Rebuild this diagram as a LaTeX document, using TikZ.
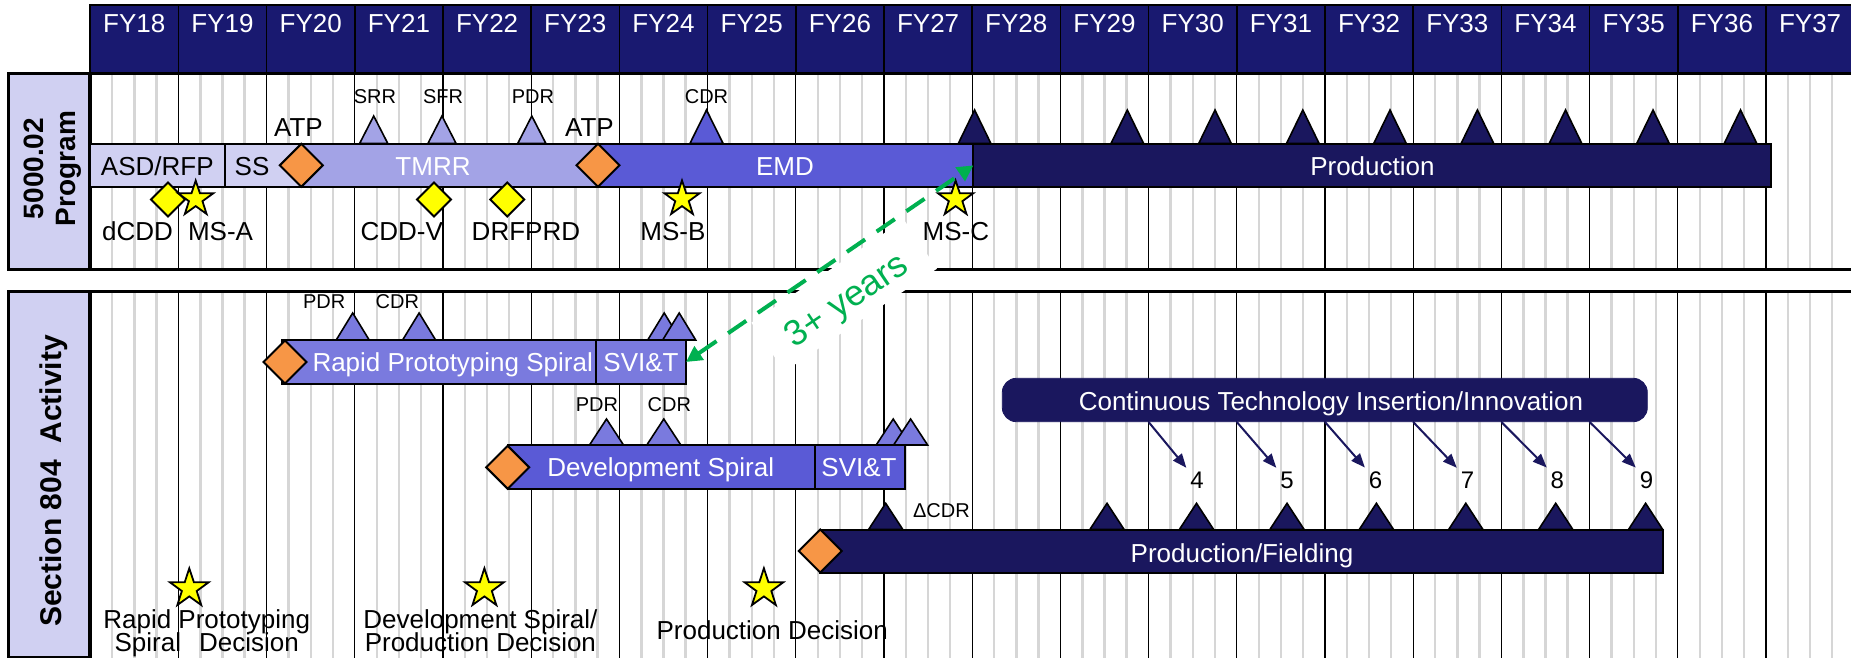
\documentclass[tikz,border=0pt]{standalone}
\usepackage{fontspec}
\setmainfont{Liberation Sans}
\usetikzlibrary{shapes.geometric,arrows.meta,fit}

\definecolor{hdrnavy}{RGB}{25,25,112}
\definecolor{prodnavy}{RGB}{26,23,94}
\definecolor{lav}{RGB}{208,208,242}
\definecolor{tmrrblue}{RGB}{163,163,230}
\definecolor{emdblue}{RGB}{90,90,214}
\definecolor{spiralblue}{RGB}{122,122,222}
\definecolor{gateorange}{RGB}{247,150,70}
\definecolor{msyellow}{RGB}{255,255,0}
\definecolor{spangreen}{RGB}{0,176,80}
\definecolor{quartergray}{RGB}{214,214,214}

% milestone triangle: fill, apex x, apex y, base y, half base width
\newcommand\msTri[5]{%
  \filldraw[mstri,fill=#1] (#2,#3) -- (#2+#5,#4) -- (#2-#5,#4) -- cycle;}
% two-line captions with a baseline distance below the font size
\newcommand\tightlines{\fontsize{13}{11.3}\selectfont\lineskiplimit=-20pt\relax}

\begin{document}
\begin{tikzpicture}[x=0.5pt,y=-0.5pt,
  every node/.style={inner sep=0pt,outer sep=0pt},
  hdrcell/.style={draw=black,line width=0.8pt,fill=hdrnavy},
  hdrtext/.style={anchor=base,text=white,font=\fontsize{13}{15}\selectfont},
  yearline/.style={black,line width=0.6pt},
  qline/.style={quartergray,line width=1.2pt},
  panelframe/.style={black,line width=1.5pt},
  sidebox/.style={draw=black,line width=1.5pt,fill=lav},
  sidetext/.style={rotate=90,align=center,font=\bfseries\fontsize{14}{16}\selectfont},
  bar/.style={draw=black,line width=1pt},
  lbl/.style={anchor=base,font=\fontsize{13}{15}\selectfont},
  smlbl/.style={anchor=base,font=\fontsize{10}{12}\selectfont},
  numlbl/.style={anchor=base,inner sep=2pt,font=\fontsize{12}{14}\selectfont},
  twoline/.style={align=center,font=\tightlines},
  mstri/.style={draw=black,line width=0.8pt,line join=miter},
  gate/.style={diamond,aspect=1,draw=black,line width=1pt,fill=gateorange,minimum size=21.5pt},
  ydia/.style={diamond,aspect=1,draw=black,line width=1pt,fill=msyellow,minimum size=17pt},
  msstar/.style={star,star points=5,star point ratio=2.6,draw=black,line width=0.9pt,fill=msyellow,minimum size=18.5pt},
  feed/.style={draw=prodnavy,line width=1pt,-{Triangle[length=7pt,width=5.5pt]}},
  spanarrow/.style={spangreen,line width=2pt,dash pattern=on 11pt off 7pt,
    {Triangle[length=8pt,width=8pt]}-{Triangle[length=8pt,width=8pt]}},
]
\useasboundingbox (0,0) rectangle (1851,658);
\clip (0,0) rectangle (1851,658);
\fill[white] (0,0) rectangle (1851,658);

% fiscal-year header
\foreach \k [evaluate=\k as \yr using int(18+\k)] in {0,...,19}{
  \draw[hdrcell] (90.2+88.2*\k,5) rectangle ++(88.2,67.7);
  \node[hdrtext] (fy\yr) at (134.3+88.2*\k,32.7) {FY\yr};
}

% quarter and year grid lines in both panels
\foreach \k in {0,...,19}{
  \foreach \q in {1,2,3}{
    \draw[qline] (90.2+88.2*\k+22.05*\q,74) -- (90.2+88.2*\k+22.05*\q,269);
    \draw[qline] (90.2+88.2*\k+22.05*\q,291.7) -- (90.2+88.2*\k+22.05*\q,660);
  }
}
\foreach \k in {1,...,19}{
  \draw[yearline] (90.2+88.2*\k,74) -- (90.2+88.2*\k,269);
  \draw[yearline] (90.2+88.2*\k,291.7) -- (90.2+88.2*\k,660);
}

% panel frames and side labels
\draw[panelframe] (1860,74) -- (90.2,74) -- (90.2,269) -- (1860,269);
\draw[panelframe] (1860,291.7) -- (90.2,291.7) -- (90.2,660);
\node[sidebox,fit={(8,74) (89,269)}] (progside) {};
\node[sidetext] (progname) at (52.5,168.5) {5000.02\\Program};
\node[sidebox,fit={(8,291.7) (89,657)}] (actside) {};
\node[sidetext,font=\bfseries\fontsize{15}{17}\selectfont] (actname) at (54,481) {Section 804\ \ Activity};

% clear patch behind the span label
\node[fill=white,rotate=34,minimum width=92pt,minimum height=29.5pt] (spanback) at (844.2,295.7) {};

% ---- 5000.02 program row ----
\node[bar,fill=lav,fit={(90.2,144) (224.6,186.7)}] (asd) {};
\node[bar,fill=lav,fit={(224.6,144) (301.3,186.7)}] (ss) {};
\node[bar,fill=tmrrblue,fit={(301.3,144) (598,186.7)}] (tmrr) {};
\node[bar,fill=emdblue,fit={(598,144) (973.4,186.7)}] (emd) {};
\node[bar,fill=prodnavy,fit={(973.4,144) (1771,186.7)}] (prod) {};

\node[lbl] (asdt) at (157.3,175) {ASD/RFP};
\node[lbl] (sst) at (252,175) {SS};
\node[lbl,text=white] (tmrrt) at (433,175) {TMRR};
\node[lbl,text=white] (emdt) at (785,175) {EMD};
\node[lbl,text=white] (prodt) at (1372.4,175) {Production};

\foreach \x in {373.7,442,531.8} {\msTri{tmrrblue}{\x}{116}{143.3}{14}}
\msTri{emdblue}{706.5}{110}{143.3}{16.5}
\foreach \x in {974.6,1127.3,1215,1302.8,1390,1477.4,1565.5,1653,1740.5}
  {\msTri{prodnavy}{\x}{110}{143.3}{16.2}}

\node[smlbl] (srr) at (375,104) {SRR};
\node[smlbl] (sfr) at (443,104) {SFR};
\node[smlbl] (pdr) at (533,104) {PDR};
\node[smlbl] (cdr) at (706.5,104) {CDR};
\node[lbl] (atp1) at (298.5,136.7) {ATP};
\node[lbl] (atp2) at (589.5,136.7) {ATP};

\node[gate] (g1) at (301.3,165.3) {};
\node[gate] (g2) at (598,165.3) {};
\node[ydia] (dcdd) at (168,199.5) {};
\node[ydia] (cddv) at (434,199.5) {};
\node[ydia] (drf) at (507.3,199.5) {};
\node[msstar] (msa) at (195.7,199) {};
\node[msstar] (msb) at (682,199) {};
\node[msstar] (msc) at (955.6,199) {};

\node[lbl] (dcddt) at (137.6,240.7) {dCDD};
\node[lbl] (msat) at (220.5,240.7) {MS-A};
\node[lbl] (cddvt) at (401.8,240.7) {CDD-V};
\node[lbl] (drfprd) at (525.9,240.7) {DRFPRD};
\node[lbl] (msbt) at (672.9,240.7) {MS-B};
\node[lbl] (msct) at (955.8,240.7) {MS-C};

% ---- Section 804 activity ----
\node[bar,fill=spiralblue,fit={(282,340) (596.3,384)}] (rps) {};
\node[bar,fill=spiralblue,fit={(596.3,340) (686,384)}] (svi1) {};
\node[bar,fill=emdblue,fit={(508,445) (815.3,489.3)}] (dev) {};
\node[bar,fill=emdblue,fit={(815.3,445) (905,489.3)}] (svi2) {};
\node[bar,fill=prodnavy,fit={(820,530) (1662.7,572.7)}] (pf) {};
\node[fill=prodnavy,draw=prodnavy,rounded corners=7pt,fit={(1002.3,378.3) (1647.3,421.7)}] (cti) {};

\node[lbl,text=white] (rpst) at (452.7,371.7) {Rapid Prototyping Spiral};
\node[lbl,text=white] (svi1t) at (641,371.7) {SVI\&T};
\node[lbl,text=white] (devt) at (660.7,476.7) {Development Spiral};
\node[lbl,text=white] (svi2t) at (859,476.7) {SVI\&T};
\node[lbl,text=white] (pft) at (1242,562) {Production/Fielding};
\node[lbl,text=white] (ctit) at (1331,410.5) {Continuous Technology Insertion/Innovation};

\foreach \x in {352.7,419.1,664.2,679.2} {\msTri{spiralblue}{\x}{313}{340}{16.5}}
\foreach \x in {606.5,663.8,893.2,910.6} {\msTri{spiralblue}{\x}{419}{445}{17}}
\foreach \x in {885.7,1107,1196.5,1287,1376.4,1465.8,1555.7,1645.6}
  {\msTri{prodnavy}{\x}{503.3}{529.3}{17}}

\node[smlbl] (pdr1) at (324.2,308.3) {PDR};
\node[smlbl] (cdr1) at (397.4,308.3) {CDR};
\node[smlbl] (pdr2) at (597,411.7) {PDR};
\node[smlbl] (cdr2) at (669.4,411.7) {CDR};
\node[smlbl] (dcdr) at (941.4,517.3) {ΔCDR};

\node[gate] (g3) at (285,362) {};
\node[gate] (g4) at (507.7,467.3) {};
\node[gate] (g5) at (820.3,551) {};

% insertion points feeding each production increment
\foreach \n/\sx/\nx in {4/1148.6/1197,5/1236.8/1287,6/1325/1375.5,7/1413.2/1467.5,8/1501.4/1557.4,9/1589.6/1646.4}{
  \coordinate (feed\n) at (\sx,422);
  \node[numlbl] (n\n) at (\nx,488.3) {\n};
  \draw[feed] (feed\n) -- (n\n.north west);
}

% decision points
\node[msstar,minimum size=20.3pt] (rpsdec) at (189.3,588.6) {};
\node[msstar,minimum size=20.3pt] (devdec) at (484.4,588.6) {};
\node[msstar,minimum size=20.3pt] (proddec) at (763.9,588.6) {};
\node[twoline] (rpsdect) at (206.7,633) {Rapid Prototyping\\Spiral\hspace{9pt}Decision};
\node[twoline] (devdect) at (480.4,630.4) {Development Spiral/\\Production Decision};
\node[lbl] (proddect) at (772.2,639.3) {Production Decision};

% lead-time span between prototype delivery and production
\draw[spanarrow] (svi1.east) -- (prod.west);
\node[rotate=34,text=spangreen,font=\fontsize{18}{20}\selectfont] (yrs) at (847.5,302) {3+ years};
\end{tikzpicture}
\end{document}
